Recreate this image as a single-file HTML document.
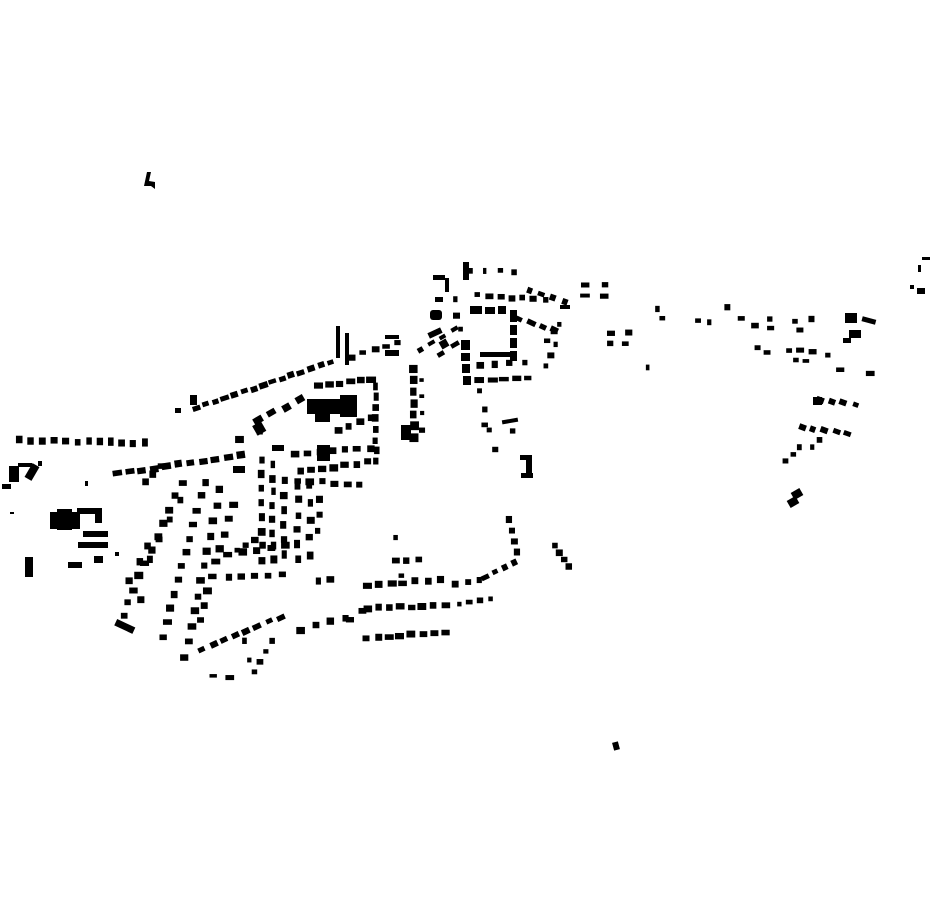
<!DOCTYPE html>
<html><head><meta charset="utf-8"><style>html,body{margin:0;padding:0;background:#fff;width:930px;height:924px;overflow:hidden}svg{display:block}</style></head>
<body>
<svg id="s" width="930" height="924" viewBox="0 0 930 924" xmlns="http://www.w3.org/2000/svg">
<rect width="930" height="924" fill="#fff"/>
<g fill="#000">
<path d="M147 172 L151 172 L149 181 L155 182 L155 189 L151 186 L144 186 Z"/>
<rect x="613" y="742" width="6" height="8" transform="rotate(-15 616 746)"/>
<rect x="922" y="257" width="8" height="3"/><rect x="918" y="265" width="3" height="7"/><rect x="910" y="285" width="4" height="4"/><rect x="917" y="288" width="8" height="6"/>
<rect x="50" y="512" width="30" height="17"/><rect x="57" y="509" width="15" height="21"/><rect x="77" y="508" width="25" height="6"/><rect x="95" y="508" width="7" height="15"/>
<rect x="83" y="531" width="25" height="6"/><rect x="78" y="542" width="30" height="6"/><rect x="68" y="562" width="14" height="6"/><rect x="94" y="556" width="9" height="7"/>
<rect x="25" y="557" width="8" height="20"/><rect x="115" y="552" width="4" height="4"/>
<rect x="9" y="466" width="10" height="16"/><rect x="18" y="463" width="14" height="4"/><rect x="28" y="464" width="8" height="16" transform="rotate(30 32 472)"/><rect x="2" y="484" width="9" height="5"/><rect x="38" y="461" width="4" height="5"/>
<rect x="85" y="481" width="3" height="5"/><rect x="10" y="512" width="4" height="2"/>
<rect x="307" y="399" width="38" height="15"/><rect x="340" y="395" width="17" height="22"/><rect x="315" y="410" width="15" height="12"/>
<rect x="317" y="445" width="13" height="16"/>
<rect x="336" y="326" width="4" height="32"/><rect x="345" y="333" width="4" height="32"/>
<rect x="385" y="350" width="14" height="6"/><rect x="385" y="335" width="14" height="4"/>
<rect x="254" y="423" width="10" height="11" transform="rotate(-30 259 428)"/>
<rect x="190" y="395" width="7" height="10"/><rect x="175" y="408" width="6" height="5"/>
<rect x="115" y="623" width="20" height="7" transform="rotate(25 125 626)"/>
<rect x="233" y="466" width="12" height="7"/><rect x="272" y="445" width="12" height="6"/>
<!-- court pieces -->
<rect x="470" y="306" width="12" height="8"/><rect x="485" y="307" width="10" height="7"/><rect x="498" y="306" width="8" height="8"/>
<rect x="510" y="310" width="7" height="12"/><rect x="510" y="325" width="7" height="10"/><rect x="510" y="338" width="7" height="10"/><rect x="510" y="351" width="7" height="10"/>
<rect x="461" y="340" width="9" height="10"/><rect x="461" y="353" width="9" height="8"/><rect x="462" y="364" width="8" height="9"/><rect x="463" y="376" width="8" height="9"/>
<rect x="480" y="352" width="30" height="5"/>
<rect x="463" y="262" width="6" height="18"/><rect x="433" y="275" width="12" height="5"/><rect x="445" y="278" width="4" height="14"/>
<rect x="430" y="310" width="12" height="10" rx="3"/><rect x="435" y="297" width="8" height="5"/>
<rect x="401" y="425" width="10" height="15"/>
<rect x="440" y="340" width="8" height="8" transform="rotate(-30 444 344)"/><rect x="428" y="330" width="14" height="6" transform="rotate(-25 435 333)"/>
<rect x="560" y="305" width="10" height="4"/><rect x="520" y="455" width="12" height="5"/><rect x="526" y="455" width="6" height="23"/><rect x="521" y="473" width="12" height="5"/>
<rect x="502" y="419" width="16" height="4" transform="rotate(-10 510 421)"/>
<rect x="845" y="313" width="12" height="10"/><rect x="862" y="318" width="14" height="5" transform="rotate(15 869 320)"/><rect x="849" y="330" width="12" height="8"/><rect x="843" y="338" width="8" height="5"/>
<rect x="792" y="490" width="10" height="8" transform="rotate(-30 797 494)"/><rect x="788" y="498" width="10" height="8" transform="rotate(-30 793 502)"/>
<rect x="813" y="397" width="9" height="8"/>
</g>
<g id="dots" fill="#000"></g>
</svg>
<script>
var g=document.getElementById('dots');var seed=7;function rnd(){seed=(seed*9301+49297)%233280;return seed/233280;}
function r(x,y,w,h,a){var e=document.createElementNS('http://www.w3.org/2000/svg','rect');e.setAttribute('x',x-w/2);e.setAttribute('y',y-h/2);e.setAttribute('width',w);e.setAttribute('height',h);if(a)e.setAttribute('transform','rotate('+a+' '+x+' '+y+')');g.appendChild(e);}
function row(x1,y1,x2,y2,n,w,h,a){w=w||6;h=h||5;for(var i=0;i<n;i++){var t=n>1?i/(n-1):0;var jw=w+(rnd()-0.3)*3,jh=h+(rnd()-0.3)*2;r(x1+(x2-x1)*t+(rnd()-0.5)*2,y1+(y2-y1)*t+(rnd()-0.5)*2,jw,jh,a);}}
row(20,440,145,443,12,6,7);
row(196,408,330,362,15,7,5,-18);
row(352,357,398,343,5,7,5);
row(118,474,240,455,11,8,6,-8);
row(145,481,160,466,3,6,6);
row(318,385,372,380,6,8,6);
row(376,386,376,462,8,5,7);
row(300,472,368,462,7,7,6);
row(338,430,372,418,4,6,6);
row(258,420,300,400,4,8,6,-30);
row(240,440,260,430,2,7,7);
row(295,455,370,448,7,7,6);
row(297,480,360,485,6,7,6);
row(262,460,262,560,8,6,7);
row(273,465,273,560,8,5,7);
row(284,480,284,555,6,6,7);
row(298,485,298,560,6,6,7);
row(310,485,310,555,5,6,7);
row(320,500,318,530,3,5,6);
row(228,555,285,545,5,7,6);
row(228,578,282,575,5,7,6);
row(238,550,255,540,3,6,5);
row(182,483,127,603,10,7,6);
row(205,482,163,637,12,7,6);
row(220,490,185,657,12,7,6);
row(233,505,200,620,9,7,6);
row(180,500,150,560,4,6,6);
row(148,545,130,580,3,6,6);
row(140,600,125,615,2,6,6);
row(202,650,280,617,8,7,5,-25);
row(214,675,230,677,2,7,4);
row(255,672,272,640,4,5,5);
row(300,630,345,618,4,7,6);
row(245,640,250,660,2,5,5);
row(318,582,330,580,2,6,7);
row(367,585,440,580,7,7,6);
row(367,608,445,606,8,7,6);
row(367,638,445,632,8,7,6);
row(395,538,395,540,1,5,5);
row(395,560,418,560,3,6,6);
row(402,575,408,575,1,5,5);
row(455,585,480,580,3,6,6);
row(486,578,514,562,4,6,5,-25);
row(508,520,517,552,4,5,6);
row(460,605,490,598,4,5,5);
row(350,620,362,610,2,7,6);
row(555,545,568,567,4,5,6);
row(470,270,515,272,4,4,5);
row(478,295,545,300,7,6,5);
row(530,290,565,302,4,6,5,20);
row(520,320,555,330,4,7,5,25);
row(548,340,560,325,3,5,5);
row(545,365,555,345,3,5,5);
row(455,300,460,330,3,5,5);
row(440,355,455,345,2,8,5,-30);
row(420,350,455,330,4,6,4,-30);
row(480,365,525,362,4,6,6);
row(480,381,528,378,5,8,5);
row(480,390,495,450,4,5,5);
row(485,425,512,430,2,5,5);
row(414,368,414,438,7,7,8);
row(422,380,422,430,4,4,4);
row(585,285,605,285,2,7,5);row(585,296,605,296,2,9,4);
row(610,334,628,333,2,6,5);row(610,344,625,344,2,6,5);
row(648,368,650,368,1,4,6);
row(657,308,663,318,2,5,5);
row(698,320,710,322,2,5,5);row(728,307,730,307,1,5,5);
row(742,318,755,325,2,6,5);row(770,320,770,328,2,5,5);
row(795,322,800,330,2,6,5);row(812,320,815,320,1,6,6);
row(757,348,768,352,2,5,5);row(790,350,812,352,3,6,5);row(795,360,805,360,2,5,4);
row(828,356,835,356,1,5,5);row(840,369,845,369,1,7,4);row(871,373,873,373,1,7,5);
row(820,400,855,405,4,6,5,20);
row(802,428,848,433,5,6,5,20);
row(785,460,800,447,3,5,5);
row(812,448,820,440,2,5,5);
</script>
</body></html>
